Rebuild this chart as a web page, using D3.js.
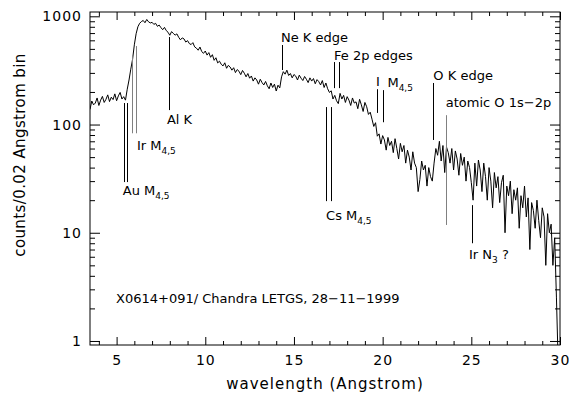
<!DOCTYPE html>
<html>
<head>
<meta charset="utf-8">
<script src="https://cdn.jsdelivr.net/npm/d3@7"></script>
<style>
  body { margin: 0; background: #fff; }
  text { font-family: "DejaVu Sans", sans-serif; fill: #000; }
</style>
</head>
<body>
<script>
// spectrum: counts per 0.02 A bin, sampled every 0.1 A from 3.5 A
const wlStart = 3.5;
const wlStep = 0.1;
const counts = [
  138, 165, 152, 158, 176, 150, 168, 182, 160, 171, 188, 163, 179, 170, 192, 166, 184, 198, 172, 181,
  168, 212, 258, 325, 400, 545, 690, 800, 862, 895,
  915, 872, 935, 890, 868, 880, 842, 861, 808, 830,
  786, 752, 790, 738, 712, 668, 722, 694, 670, 688,
  640, 606, 632, 618, 578, 596, 560, 548, 571, 522,
  508, 486, 520, 472, 455, 478, 438, 462, 418, 442,
  392, 414, 371, 385, 360, 348, 372, 331, 352, 340,
  318, 335, 302, 322, 311, 289, 316, 298, 276, 296,
  268, 281, 252, 270, 258, 236, 262, 244, 232, 250,
  228, 214, 242, 220, 236, 204, 231, 218, 276, 308,
  292, 318, 284, 296, 270, 290, 280, 258, 286, 268,
  255, 278, 262, 244, 270, 252, 266, 238, 260, 249,
  232, 255, 220, 242, 214, 198, 205, 172, 186, 166,
  156, 194, 172, 186, 160, 181, 168, 150, 176, 158,
  162, 140, 171, 152, 132, 160, 146, 124, 130, 112,
  96, 104, 78, 82, 66, 79, 72, 58, 76, 64,
  70, 55, 74, 60, 48, 67, 56, 64, 44, 58,
  50, 38, 56, 44, 40, 24, 31, 46, 38, 42,
  27, 40, 33, 30, 44, 60, 52, 70, 46, 64,
  36, 62, 55, 44, 60, 38, 57, 48, 34, 54,
  42, 50, 30, 46, 40, 29, 20, 44, 27, 47,
  38, 24, 44, 33, 20, 40, 30, 17, 36, 26,
  33, 19, 29, 34, 10, 27, 22, 30, 15, 25,
  20, 26, 11, 22, 17, 27, 14, 21, 7, 19,
  16, 11, 20, 13, 9, 17, 14, 5, 15, 10,
  12, 5, 9, 2.5, 0.6, 0.5
];

const xMajor = [5, 10, 15, 20, 25, 30];
const xMinor = d3.range(4, 30, 1).filter(v => v % 5 !== 0);
const yMajor = [1, 10, 100, 1000];
const yMinor = [1, 10, 100].flatMap(d => [2, 3, 4, 5, 6, 7, 8, 9].map(k => k * d));

// edge markers: wavelength, counts at top and bottom of the line
const edgeLines = [
  { wl: 5.40, top: 158, bot: 29.4, tone: 'dark' },
  { wl: 5.56, top: 158, bot: 29.4, tone: 'dark' },
  { wl: 5.87, top: 430, bot: 83, tone: 'gray' },
  { wl: 6.09, top: 531, bot: 83, tone: 'gray' },
  { wl: 7.955, top: 644, bot: 136, tone: 'dark' },
  { wl: 14.30, top: 543, bot: 319, tone: 'dark' },
  { wl: 17.27, top: 378, bot: 217, tone: 'dark' },
  { wl: 17.56, top: 378, bot: 217, tone: 'dark' },
  { wl: 16.81, top: 145, bot: 19.6, tone: 'dark' },
  { wl: 17.09, top: 145, bot: 19.6, tone: 'dark' },
  { wl: 19.67, top: 212, bot: 128, tone: 'dark' },
  { wl: 20.04, top: 208, bot: 105, tone: 'dark' },
  { wl: 22.86, top: 242, bot: 72, tone: 'dark' },
  { wl: 23.56, top: 122, bot: 11.8, tone: 'gray' },
  { wl: 25.06, top: 18, bot: 8, tone: 'dark' }
];

const edgeLabels = [
  { text: 'Au M', sub: '4,5', wl: 5.35, c: 22.2 },
  { text: 'Ir M', sub: '4,5', wl: 6.15, c: 58 },
  { text: 'Al K', wl: 7.84, c: 101 },
  { text: 'Ne K edge', wl: 14.27, c: 579 },
  { text: 'Fe 2p edges', wl: 17.26, c: 395 },
  { text: 'Cs M', sub: '4,5', wl: 16.81, c: 13.2 },
  { text: 'I', wl: 19.62, c: 227 },
  { text: 'M', sub: '4,5', wl: 20.27, c: 222 },
  { text: 'O K edge', wl: 22.86, c: 258 },
  { text: 'atomic O 1s\u22122p', wl: 23.56, c: 145 },
  { text: 'Ir N', sub: '3', after: ' ?', wl: 24.87, c: 5.7 },
  { text: 'X0614+091/ Chandra LETGS, 28\u221211\u22121999', wl: 4.97, c: 2.23 }
];

const width = 569;
const height = 398;
const plot = { left: 90, right: 560, top: 12, bottom: 345 };

const svg = d3.select('body')
  .append('svg')
  .attr('width', width)
  .attr('height', height);

svg.append('rect').attr('width', width).attr('height', height).attr('fill', '#fff');

const x = d3.scaleLinear().domain([3.5, 30]).range([plot.left, plot.right]);
const y = d3.scaleLog().domain([0.918, 1096]).range([plot.bottom, plot.top]);

const spectrum = counts.map((c, i) => ({ wl: wlStart + i * wlStep, c }));

svg.append('clipPath').attr('id', 'clip')
  .append('rect')
  .attr('x', plot.left).attr('y', plot.top)
  .attr('width', plot.right - plot.left).attr('height', plot.bottom - plot.top);

const line = d3.line()
  .x(d => x(d.wl))
  .y(d => y(Math.max(d.c, 0.5)));

svg.append('path')
  .datum(spectrum)
  .attr('clip-path', 'url(#clip)')
  .attr('fill', 'none')
  .attr('stroke', '#000')
  .attr('stroke-width', 1)
  .attr('d', line);

// axes, ticks pointing inward on all four sides
function styleAxis(g) {
  g.select('.domain').remove();
  g.selectAll('line').attr('stroke', '#000');
}

svg.append('g')
  .attr('transform', `translate(0,${plot.bottom})`)
  .call(d3.axisBottom(x).tickValues(xMajor).tickSize(-8).tickPadding(10).tickFormat(d3.format('d')))
  .call(styleAxis)
  .call(g => g.selectAll('text').attr('font-size', 14).attr('letter-spacing', 1)
    .attr('font-family', '"DejaVu Sans", sans-serif'));
svg.append('g')
  .attr('transform', `translate(0,${plot.bottom})`)
  .call(d3.axisBottom(x).tickValues(xMinor).tickSize(-4).tickFormat(''))
  .call(styleAxis);
svg.append('g')
  .attr('transform', `translate(0,${plot.top})`)
  .call(d3.axisTop(x).tickValues(xMajor).tickSize(-8).tickFormat(''))
  .call(styleAxis);
svg.append('g')
  .attr('transform', `translate(0,${plot.top})`)
  .call(d3.axisTop(x).tickValues(xMinor).tickSize(-4).tickFormat(''))
  .call(styleAxis);

svg.append('g')
  .attr('transform', `translate(${plot.left},0)`)
  .call(d3.axisLeft(y).tickValues(yMajor).tickSize(-10).tickPadding(8).tickFormat(d3.format('d')))
  .call(styleAxis)
  .call(g => g.selectAll('text').attr('font-size', 14).attr('letter-spacing', 1)
    .attr('font-family', '"DejaVu Sans", sans-serif'));
svg.append('g')
  .attr('transform', `translate(${plot.left},0)`)
  .call(d3.axisLeft(y).tickValues(yMinor).tickSize(-5).tickFormat(''))
  .call(styleAxis);
svg.append('g')
  .attr('transform', `translate(${plot.right},0)`)
  .call(d3.axisRight(y).tickValues(yMajor).tickSize(-10).tickFormat(''))
  .call(styleAxis);
svg.append('g')
  .attr('transform', `translate(${plot.right},0)`)
  .call(d3.axisRight(y).tickValues(yMinor).tickSize(-5).tickFormat(''))
  .call(styleAxis);

svg.append('rect')
  .attr('x', plot.left).attr('y', plot.top)
  .attr('width', plot.right - plot.left).attr('height', plot.bottom - plot.top)
  .attr('fill', 'none').attr('stroke', '#000').attr('stroke-width', 1);

// edge markers
svg.append('g')
  .selectAll('line')
  .data(edgeLines)
  .join('line')
  .attr('x1', d => Math.round(x(d.wl)) + 0.5)
  .attr('x2', d => Math.round(x(d.wl)) + 0.5)
  .attr('y1', d => y(d.top))
  .attr('y2', d => y(d.bot))
  .attr('stroke', d => d.tone === 'gray' ? '#808080' : '#000')
  .attr('stroke-width', 1);

const labels = svg.append('g')
  .selectAll('text')
  .data(edgeLabels)
  .join('text')
  .attr('x', d => x(d.wl))
  .attr('y', d => y(d.c))
  .attr('font-size', 13);

labels.append('tspan').text(d => d.text);
labels.filter(d => d.sub)
  .append('tspan')
  .attr('font-size', 9)
  .attr('dy', 4)
  .text(d => d.sub);
labels.filter(d => d.after)
  .append('tspan')
  .attr('dy', -4)
  .text(d => d.after);

// axis titles
svg.append('text')
  .attr('x', (plot.left + plot.right) / 2)
  .attr('y', 389)
  .attr('text-anchor', 'middle')
  .attr('font-size', 15)
  .attr('letter-spacing', 1)
  .text('wavelength (Angstrom)');

svg.append('text')
  .attr('transform', 'translate(25,155) rotate(-90)')
  .attr('text-anchor', 'middle')
  .attr('font-size', 15)
  .attr('letter-spacing', 0.4)
  .text('counts/0.02 Angstrom bin');
</script>
</body>
</html>
